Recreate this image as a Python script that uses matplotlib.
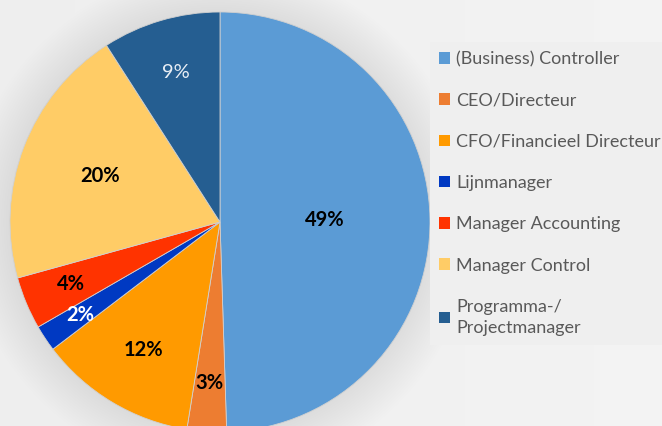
import matplotlib.pyplot as plt
import numpy as np

plt.rcParams['font.family'] = ['Lato', 'DejaVu Sans']

# data
labels = ['(Business) Controller', 'CEO/Directeur', 'CFO/Financieel Directeur',
          'Lijnmanager', 'Manager Accounting', 'Manager Control',
          'Programma-/\nProjectmanager']
shares = [49, 3, 12, 2, 4, 20, 9]
colors = ['#5B9BD5', '#ED7D31', '#FF9A00', '#0039C2', '#FF3300', '#FFCC66', '#255E91']

# label styling per slice
label_dist = [0.50, 0.77, 0.71, 0.80, 0.77, 0.61, 0.74]
label_color = ['black', 'black', 'black', 'white', 'black', 'black', '#e8eef5']
label_weight = ['bold'] * 6 + ['normal']

W, H = 662, 426
fig = plt.figure(figsize=(W / 100, H / 100), dpi=100)
fig.patch.set_facecolor('#e8e8e8')

# soft background gradient
bg = fig.add_axes([0, 0, 1, 1])
yy, xx = np.mgrid[0:H, 0:W]
d = np.hypot(xx - 220, yy - 222)
shade = np.clip((d - 205) / 50, 0, 1)
img = 0.85 + 0.085 * shade + 0.02 * (xx / W)
bg.imshow(np.dstack([img] * 3), extent=[0, W, H, 0], aspect='auto')
bg.axis('off')

# pie axes: centre (220, 222), radius 210 px
cx, cy, r = 220, 222, 210
ax = fig.add_axes([(cx - r) / W, (H - cy - r) / H, 2 * r / W, 2 * r / H])
wedges, texts, autotexts = ax.pie(
    shares, colors=colors, startangle=90, counterclock=False,
    autopct='%d%%', pctdistance=0.5,
    wedgeprops=dict(linewidth=0.6, edgecolor='#d0d0d0'))
ax.set_xlim(-1, 1)
ax.set_ylim(-1, 1)
ax.set_aspect('equal')

total = sum(shares)
start = 90.0
for i, (t, s) in enumerate(zip(autotexts, shares)):
    ang = np.deg2rad(start - s / total * 180)
    start -= s / total * 360
    t.set_position((label_dist[i] * np.cos(ang), label_dist[i] * np.sin(ang)))
    t.set_text(f'{s}%')
    t.set_color(label_color[i])
    t.set_fontweight(label_weight[i])
    t.set_fontsize(14.5)

leg = fig.legend(wedges, labels, loc='upper left',
                 bbox_to_anchor=(430 / W, 1 - 42 / H),
                 frameon=True, fontsize=13, labelcolor='#595959',
                 handlelength=0.6, handleheight=0.6, handletextpad=0.35,
                 labelspacing=1.4, borderaxespad=0, borderpad=0.5,
                 fancybox=False)
leg.get_frame().set_facecolor('#efefef')
leg.get_frame().set_edgecolor('none')
leg.get_frame().set_alpha(1)
for h in leg.legend_handles:
    h.set_edgecolor('none')
leg.get_texts()[-1].set_linespacing(1.4)

fig.savefig('out.png', dpi=100, facecolor=fig.get_facecolor())
